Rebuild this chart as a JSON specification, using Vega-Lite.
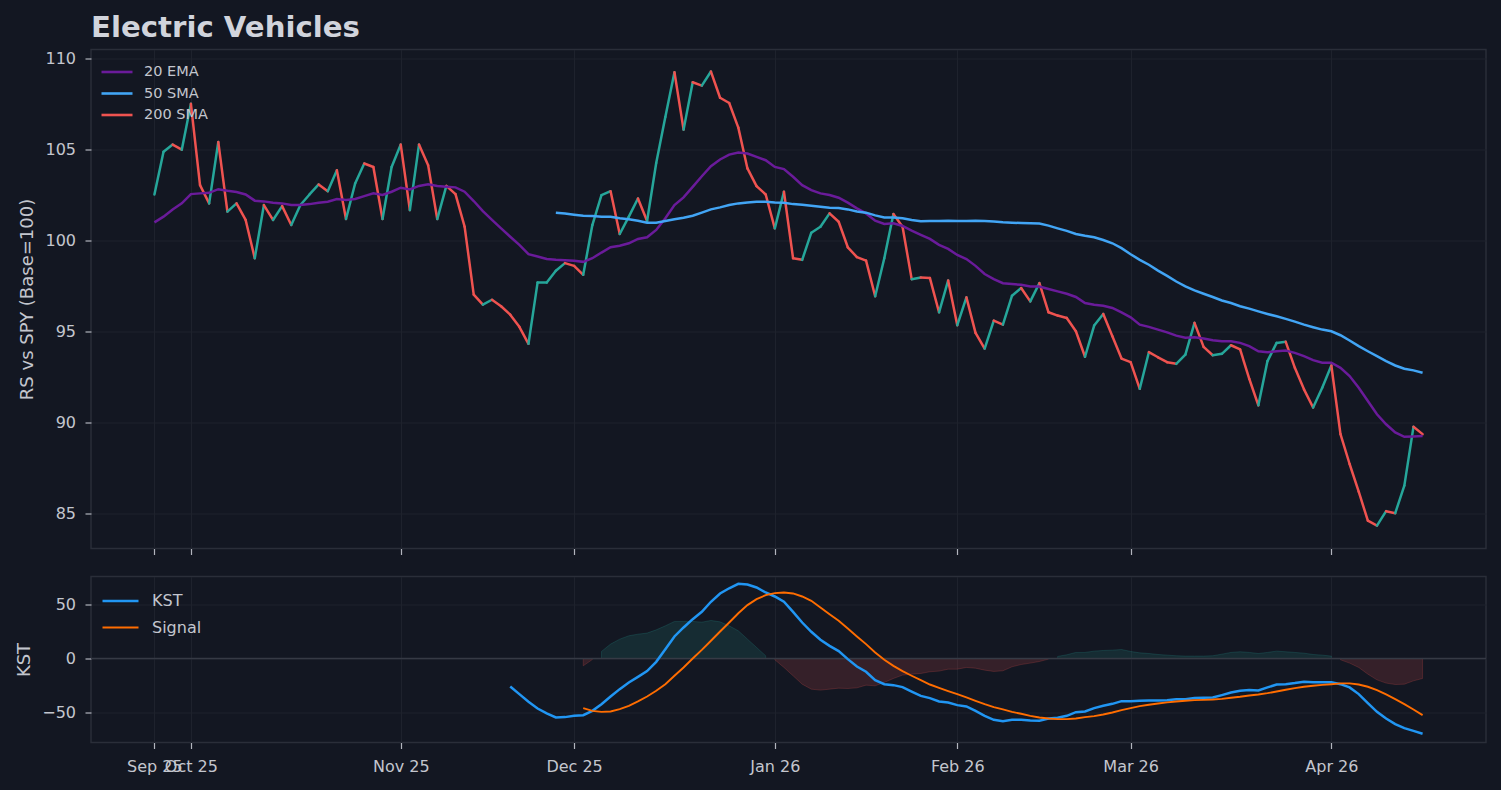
{
  "$schema": "https://vega.github.io/schema/vega-lite/v6.json",
  "autosize": {"type": "pad"},
  "padding": {"left": 14, "top": 13.5, "right": 14, "bottom": 20},
  "background": "#131722",
  "title": {"text": "Electric Vehicles", "anchor": "start", "frame": "group", "fontSize": 29.2, "fontWeight": "bold", "font": "DejaVu Sans", "color": "#d1d4dc", "offset": 5.3},
  "data": {"values": [
    {"i":0,"rs":102.54,"ema":101.01},{"i":1,"rs":104.88,"ema":101.32},{"i":2,"rs":105.28,"ema":101.72},{"i":3,"rs":105.0,"ema":102.05},
    {"i":4,"rs":107.52,"ema":102.56},{"i":5,"rs":103.05,"ema":102.6},{"i":6,"rs":102.05,"ema":102.63},{"i":7,"rs":105.42,"ema":102.83},
    {"i":8,"rs":101.6,"ema":102.74},{"i":9,"rs":102.05,"ema":102.67},{"i":10,"rs":101.14,"ema":102.54},{"i":11,"rs":99.04,"ema":102.2},
    {"i":12,"rs":101.96,"ema":102.16},{"i":13,"rs":101.14,"ema":102.09},{"i":14,"rs":101.9,"ema":102.05},{"i":15,"rs":100.86,"ema":101.96},
    {"i":16,"rs":101.96,"ema":101.96},{"i":17,"rs":102.54,"ema":102.01},{"i":18,"rs":103.09,"ema":102.09},{"i":19,"rs":102.72,"ema":102.14},
    {"i":20,"rs":103.87,"ema":102.29},{"i":21,"rs":101.19,"ema":102.23},{"i":22,"rs":103.14,"ema":102.29},{"i":23,"rs":104.24,"ema":102.45},
    {"i":24,"rs":104.05,"ema":102.6},{"i":25,"rs":101.19,"ema":102.51},{"i":26,"rs":104.05,"ema":102.69},{"i":27,"rs":105.28,"ema":102.91},
    {"i":28,"rs":101.68,"ema":102.82},{"i":29,"rs":105.28,"ema":103.01},{"i":30,"rs":104.15,"ema":103.1},{"i":31,"rs":101.19,"ema":103.0},
    {"i":32,"rs":103.01,"ema":102.96},{"i":33,"rs":102.56,"ema":102.93},{"i":34,"rs":100.77,"ema":102.69},{"i":35,"rs":97.04,"ema":102.18},
    {"i":36,"rs":96.49,"ema":101.63},{"i":37,"rs":96.76,"ema":101.14},{"i":38,"rs":96.4,"ema":100.68},
    {"i":39,"rs":95.94,"ema":100.22,"kst":-25.9},{"i":40,"rs":95.27,"ema":99.77,"kst":-33.0},{"i":41,"rs":94.34,"ema":99.26,"kst":-40.1},
    {"i":42,"rs":97.71,"ema":99.13,"kst":-46.3},{"i":43,"rs":97.71,"ema":99.0,"kst":-50.9},
    {"i":44,"rs":98.35,"ema":98.95,"sma":101.54,"kst":-54.6},{"i":45,"rs":98.77,"ema":98.93,"sma":101.5,"kst":-54.3},
    {"i":46,"rs":98.62,"ema":98.9,"sma":101.43,"kst":-53.1},
    {"i":47,"rs":98.13,"ema":98.84,"sma":101.37,"kst":-52.5,"sig":-46.0,"hn":-6.8},
    {"i":48,"rs":100.86,"ema":99.04,"sma":101.36,"kst":-48.5,"sig":-48.5,"hn":-1.0},
    {"i":49,"rs":102.5,"ema":99.35,"sma":101.32,"kst":-42.3,"sig":-49.4,"hp":6.5},
    {"i":50,"rs":102.72,"ema":99.64,"sma":101.32,"kst":-35.2,"sig":-49.1,"hp":13.3},
    {"i":51,"rs":100.37,"ema":99.72,"sma":101.23,"kst":-28.4,"sig":-46.9,"hp":17.9},
    {"i":52,"rs":101.32,"ema":99.86,"sma":101.18,"kst":-22.2,"sig":-43.8,"hp":21.0},
    {"i":53,"rs":102.32,"ema":100.1,"sma":101.1,"kst":-17.0,"sig":-39.8,"hp":22.5},
    {"i":54,"rs":101.08,"ema":100.19,"sma":100.99,"kst":-11.7,"sig":-35.2,"hp":23.5},
    {"i":55,"rs":104.27,"ema":100.59,"sma":100.99,"kst":-3.1,"sig":-29.9,"hp":26.5},
    {"i":56,"rs":106.79,"ema":101.23,"sma":101.08,"kst":8.6,"sig":-23.8,"hp":30.2},
    {"i":57,"rs":109.25,"ema":101.96,"sma":101.18,"kst":20.4,"sig":-16.0,"hp":34.3},
    {"i":58,"rs":106.1,"ema":102.38,"sma":101.26,"kst":28.7,"sig":-8.3,"hp":34.3},
    {"i":59,"rs":108.7,"ema":102.96,"sma":101.37,"kst":36.4,"sig":0.0,"hp":34.3},
    {"i":60,"rs":108.52,"ema":103.54,"sma":101.54,"kst":43.2,"sig":8.0,"hp":33.6},
    {"i":61,"rs":109.29,"ema":104.09,"sma":101.72,"kst":52.5,"sig":16.4,"hp":35.2},
    {"i":62,"rs":107.85,"ema":104.46,"sma":101.83,"kst":60.2,"sig":25.0,"hp":33.9},
    {"i":63,"rs":107.56,"ema":104.73,"sma":101.96,"kst":65.0,"sig":33.3,"hp":30.2},
    {"i":64,"rs":106.21,"ema":104.84,"sma":102.05,"kst":69.1,"sig":41.9,"hp":25.6},
    {"i":65,"rs":103.97,"ema":104.79,"sma":102.1,"kst":68.5,"sig":49.4,"hp":17.9},
    {"i":66,"rs":103.0,"ema":104.6,"sma":102.14,"kst":65.7,"sig":54.9,"hp":10.2},
    {"i":67,"rs":102.54,"ema":104.42,"sma":102.14,"kst":61.1,"sig":58.6,"hp":2.5},
    {"i":68,"rs":100.68,"ema":104.05,"sma":102.1,"kst":57.4,"sig":60.5,"hn":-1.2},
    {"i":69,"rs":102.69,"ema":103.93,"sma":102.09,"kst":52.5,"sig":61.1,"hn":-8.3},
    {"i":70,"rs":99.04,"ema":103.51,"sma":102.01,"kst":43.2,"sig":60.2,"hn":-16.0},
    {"i":71,"rs":98.95,"ema":103.05,"sma":101.97,"kst":33.3,"sig":57.4,"hn":-23.8},
    {"i":72,"rs":100.44,"ema":102.78,"sma":101.92,"kst":24.7,"sig":53.4,"hn":-28.4},
    {"i":73,"rs":100.77,"ema":102.6,"sma":101.87,"kst":17.3,"sig":47.2,"hn":-29.3},
    {"i":74,"rs":101.5,"ema":102.51,"sma":101.81,"kst":11.7,"sig":41.0,"hn":-28.4},
    {"i":75,"rs":101.04,"ema":102.36,"sma":101.8,"kst":6.8,"sig":34.9,"hn":-27.5},
    {"i":76,"rs":99.64,"ema":102.09,"sma":101.72,"kst":-0.6,"sig":27.8,"hn":-27.8},
    {"i":77,"rs":99.1,"ema":101.78,"sma":101.61,"kst":-7.4,"sig":20.4,"hn":-27.2},
    {"i":78,"rs":98.91,"ema":101.5,"sma":101.54,"kst":-12.3,"sig":13.3,"hn":-24.7},
    {"i":79,"rs":96.95,"ema":101.1,"sma":101.39,"kst":-20.1,"sig":5.6,"hn":-25.3},
    {"i":80,"rs":99.04,"ema":100.92,"sma":101.28,"kst":-23.8,"sig":-1.2,"hn":-22.2},
    {"i":81,"rs":101.47,"ema":100.96,"sma":101.28,"kst":-24.7,"sig":-6.8,"hn":-18.5},
    {"i":82,"rs":100.77,"ema":100.81,"sma":101.23,"kst":-26.5,"sig":-11.7,"hn":-15.4},
    {"i":83,"rs":97.89,"ema":100.55,"sma":101.14,"kst":-30.6,"sig":-16.0,"hn":-14.5},
    {"i":84,"rs":97.98,"ema":100.32,"sma":101.07,"kst":-34.6,"sig":-20.1,"hn":-13.9},
    {"i":85,"rs":97.95,"ema":100.1,"sma":101.08,"kst":-36.7,"sig":-24.1,"hn":-12.3},
    {"i":86,"rs":96.07,"ema":99.77,"sma":101.08,"kst":-39.8,"sig":-27.2,"hn":-11.7},
    {"i":87,"rs":97.82,"ema":99.55,"sma":101.1,"kst":-40.7,"sig":-30.2,"hn":-9.9},
    {"i":88,"rs":95.36,"ema":99.22,"sma":101.08,"kst":-43.2,"sig":-33.1,"hn":-9.9},
    {"i":89,"rs":96.89,"ema":98.99,"sma":101.08,"kst":-44.4,"sig":-36.1,"hn":-8.3},
    {"i":90,"rs":94.94,"ema":98.62,"sma":101.1,"kst":-48.5,"sig":-39.2,"hn":-9.0},
    {"i":91,"rs":94.08,"ema":98.17,"sma":101.08,"kst":-53.1,"sig":-42.3,"hn":-10.8},
    {"i":92,"rs":95.61,"ema":97.89,"sma":101.05,"kst":-56.8,"sig":-45.1,"hn":-12.0},
    {"i":93,"rs":95.39,"ema":97.67,"sma":101.01,"kst":-58.0,"sig":-47.2,"hn":-11.4},
    {"i":94,"rs":96.98,"ema":97.62,"sma":100.99,"kst":-56.8,"sig":-49.4,"hn":-7.7},
    {"i":95,"rs":97.4,"ema":97.58,"sma":100.97,"kst":-56.8,"sig":-51.2,"hn":-5.6},
    {"i":96,"rs":96.67,"ema":97.49,"sma":100.96,"kst":-57.4,"sig":-53.1,"hn":-4.3},
    {"i":97,"rs":97.67,"ema":97.49,"sma":100.94,"kst":-57.7,"sig":-54.6,"hn":-2.8},
    {"i":98,"rs":96.07,"ema":97.35,"sma":100.83,"kst":-55.6,"sig":-55.6,"hn":-0.6},
    {"i":99,"rs":95.89,"ema":97.22,"sma":100.68,"kst":-54.9,"sig":-56.2,"hp":1.9},
    {"i":100,"rs":95.76,"ema":97.09,"sma":100.54,"kst":-53.1,"sig":-56.2,"hp":3.4},
    {"i":101,"rs":95.03,"ema":96.91,"sma":100.37,"kst":-49.7,"sig":-55.6,"hp":5.6},
    {"i":102,"rs":93.63,"ema":96.58,"sma":100.27,"kst":-49.1,"sig":-54.3,"hp":5.6},
    {"i":103,"rs":95.34,"ema":96.49,"sma":100.19,"kst":-46.0,"sig":-53.4,"hp":6.8},
    {"i":104,"rs":95.98,"ema":96.43,"sma":100.04,"kst":-43.8,"sig":-51.9,"hp":7.4},
    {"i":105,"rs":94.75,"ema":96.31,"sma":99.86,"kst":-42.0,"sig":-50.0,"hp":7.7},
    {"i":106,"rs":93.53,"ema":96.07,"sma":99.59,"kst":-39.5,"sig":-47.8,"hp":8.3},
    {"i":107,"rs":93.33,"ema":95.79,"sma":99.26,"kst":-39.5,"sig":-46.0,"hp":6.5},
    {"i":108,"rs":91.87,"ema":95.39,"sma":98.95,"kst":-39.2,"sig":-44.1,"hp":5.2},
    {"i":109,"rs":93.88,"ema":95.27,"sma":98.68,"kst":-38.9,"sig":-42.9,"hp":4.6},
    {"i":110,"rs":93.6,"ema":95.12,"sma":98.36,"kst":-38.9,"sig":-41.7,"hp":3.7},
    {"i":111,"rs":93.33,"ema":94.97,"sma":98.07,"kst":-38.6,"sig":-40.7,"hp":3.1},
    {"i":112,"rs":93.24,"ema":94.79,"sma":97.76,"kst":-37.7,"sig":-39.8,"hp":2.5},
    {"i":113,"rs":93.75,"ema":94.67,"sma":97.49,"kst":-37.7,"sig":-39.2,"hp":2.2},
    {"i":114,"rs":95.49,"ema":94.7,"sma":97.27,"kst":-36.6,"sig":-38.6,"hp":2.2},
    {"i":115,"rs":94.17,"ema":94.63,"sma":97.09,"kst":-36.4,"sig":-38.3,"hp":2.2},
    {"i":116,"rs":93.71,"ema":94.54,"sma":96.91,"kst":-36.1,"sig":-38.0,"hp":2.5},
    {"i":117,"rs":93.79,"ema":94.48,"sma":96.72,"kst":-33.9,"sig":-37.4,"hp":4.0},
    {"i":118,"rs":94.26,"ema":94.48,"sma":96.58,"kst":-31.5,"sig":-36.4,"hp":5.6},
    {"i":119,"rs":94.03,"ema":94.39,"sma":96.4,"kst":-29.9,"sig":-35.5,"hp":6.2},
    {"i":120,"rs":92.42,"ema":94.21,"sma":96.27,"kst":-29.3,"sig":-34.3,"hp":5.6},
    {"i":121,"rs":90.96,"ema":93.93,"sma":96.12,"kst":-29.6,"sig":-33.3,"hp":4.6},
    {"i":122,"rs":93.39,"ema":93.88,"sma":95.98,"kst":-26.8,"sig":-32.1,"hp":5.6},
    {"i":123,"rs":94.39,"ema":93.93,"sma":95.85,"kst":-24.1,"sig":-30.6,"hp":6.8},
    {"i":124,"rs":94.45,"ema":93.97,"sma":95.71,"kst":-23.8,"sig":-29.0,"hp":6.2},
    {"i":125,"rs":93.02,"ema":93.84,"sma":95.56,"kst":-22.8,"sig":-27.5,"hp":5.6},
    {"i":126,"rs":91.84,"ema":93.66,"sma":95.39,"kst":-21.6,"sig":-26.2,"hp":4.9},
    {"i":127,"rs":90.84,"ema":93.44,"sma":95.25,"kst":-21.9,"sig":-25.3,"hp":3.7},
    {"i":128,"rs":91.93,"ema":93.3,"sma":95.12,"kst":-21.9,"sig":-24.4,"hp":3.1},
    {"i":129,"rs":93.15,"ema":93.3,"sma":95.03,"kst":-21.9,"sig":-23.8,"hp":2.2},
    {"i":130,"rs":89.38,"ema":93.02,"sma":94.81,"kst":-23.8,"sig":-23.1,"hn":-1.2},
    {"i":131,"rs":87.74,"ema":92.57,"sma":94.52,"kst":-26.8,"sig":-23.1,"hn":-4.3},
    {"i":132,"rs":86.22,"ema":91.93,"sma":94.21,"kst":-33.0,"sig":-24.1,"hn":-8.3},
    {"i":133,"rs":84.63,"ema":91.2,"sma":93.93,"kst":-41.3,"sig":-26.2,"hn":-14.5},
    {"i":134,"rs":84.36,"ema":90.47,"sma":93.66,"kst":-49.4,"sig":-29.3,"hn":-19.8},
    {"i":135,"rs":85.15,"ema":89.92,"sma":93.39,"kst":-55.6,"sig":-33.3,"hn":-22.8},
    {"i":136,"rs":85.04,"ema":89.47,"sma":93.15,"kst":-60.8,"sig":-37.7,"hn":-24.1},
    {"i":137,"rs":86.55,"ema":89.23,"sma":92.97,"kst":-64.5,"sig":-42.3,"hn":-23.8},
    {"i":138,"rs":89.78,"ema":89.25,"sma":92.88,"kst":-67.0,"sig":-47.2,"hn":-20.7},
    {"i":139,"rs":89.38,"ema":89.28,"sma":92.75,"kst":-69.7,"sig":-52.5,"hn":-18.5}
  ]},
  "spacing": 28,
  "bounds": "flush",
  "resolve": {"scale": {"color": "independent", "strokeWidth": "independent"}, "legend": {"color": "independent"}},
  "vconcat": [
    {
      "width": 1395,
      "height": 499,
      "encoding": {
        "x": {"field": "i", "type": "quantitative",
          "scale": {"domain": [-6.95, 145.95], "nice": false, "zero": false},
          "axis": {"values": [0, 4, 27, 46, 68, 88, 107, 129], "labels": false, "title": null}}
      },
      "layer": [
        {
          "transform": [
            {"window": [{"op": "lead", "field": "rs", "as": "rs2"}, {"op": "lead", "field": "i", "as": "i2"}], "sort": [{"field": "i", "order": "ascending"}]},
            {"filter": "datum.rs2 != null"}
          ],
          "mark": {"type": "rule", "strokeWidth": 2.5, "strokeCap": "round"},
          "encoding": {
            "x2": {"field": "i2"},
            "y": {"field": "rs", "type": "quantitative", "title": "RS vs SPY (Base=100)",
              "scale": {"domain": [83.1, 110.5], "nice": false, "zero": false},
              "axis": {"values": [85, 90, 95, 100, 105, 110]}},
            "y2": {"field": "rs2"},
            "color": {"condition": {"test": "datum.rs2 >= datum.rs", "value": "#26a69a"}, "value": "#ef5350"}
          }
        },
        {
          "transform": [{"fold": ["ema", "sma"], "as": ["key", "val"]}],
          "mark": {"type": "line", "strokeWidth": 2.5, "invalid": "break-paths-filter-domains"},
          "encoding": {
            "y": {"field": "val", "type": "quantitative", "title": "RS vs SPY (Base=100)"},
            "color": {"field": "key", "type": "nominal",
              "scale": {"domain": ["ema", "sma", "sma200"], "range": ["#6a1b9a", "#42a5f5", "#ef5350"]},
              "legend": {"orient": "none", "legendX": 14.5, "legendY": 11, "title": null,
                "symbolType": "M-1.55,0H1.55", "symbolSize": 400, "symbolStrokeWidth": 2.6,
                "labelFontSize": 14.5, "labelOffset": 15.5, "rowPadding": 3.5, "padding": 0,
                "labelExpr": "datum.label == 'ema' ? '20 EMA' : datum.label == 'sma' ? '50 SMA' : '200 SMA'"}}
          }
        }
      ]
    },
    {
      "width": 1395,
      "height": 166,
      "encoding": {
        "x": {"field": "i", "type": "quantitative",
          "scale": {"domain": [-6.95, 145.95], "nice": false, "zero": false},
          "axis": {"values": [0, 4, 27, 46, 68, 88, 107, 129], "title": null, "labelOverlap": false, "labelPadding": 10,
            "labelExpr": "['Sep 25','Oct 25','Nov 25','Dec 25','Jan 26','Feb 26','Mar 26','Apr 26'][indexof([0,4,27,46,68,88,107,129], datum.value)]"}}
      },
      "layer": [
        {
          "mark": {"type": "area", "color": "#26a69a", "fillOpacity": 0.15, "stroke": "#26a69a", "strokeOpacity": 0.2, "strokeWidth": 1, "invalid": "break-paths-filter-domains"},
          "encoding": {
            "y": {"field": "hp", "type": "quantitative", "title": "KST",
              "scale": {"domain": [-77.8, 75.9], "nice": false, "zero": false},
              "axis": {"values": [-50, 0, 50]}},
            "y2": {"datum": 0}
          }
        },
        {
          "mark": {"type": "area", "color": "#ef5350", "fillOpacity": 0.16, "stroke": "#ef5350", "strokeOpacity": 0.2, "strokeWidth": 1, "invalid": "break-paths-filter-domains"},
          "encoding": {
            "y": {"field": "hn", "type": "quantitative", "title": "KST"},
            "y2": {"datum": 0}
          }
        },
        {
          "data": {"values": [{"z": 0}]},
          "mark": {"type": "rule", "color": "#363a45", "strokeWidth": 1.6},
          "encoding": {"y": {"field": "z", "type": "quantitative", "title": "KST"}, "x": null}
        },
        {
          "transform": [{"fold": ["kst", "sig"], "as": ["key", "val"]}],
          "mark": {"type": "line", "invalid": "break-paths-filter-domains"},
          "encoding": {
            "y": {"field": "val", "type": "quantitative", "title": "KST"},
            "color": {"field": "key", "type": "nominal",
              "scale": {"domain": ["kst", "sig"], "range": ["#2196f3", "#ff6d00"]},
              "legend": {"orient": "none", "legendX": 16, "legendY": 11, "title": null,
                "symbolType": "M-1.5,0H1.5", "symbolSize": 576, "symbolStrokeWidth": 2.3,
                "labelFontSize": 16, "labelOffset": 18, "rowPadding": 5, "padding": 0,
                "labelExpr": "datum.label == 'kst' ? 'KST' : 'Signal'"}},
            "strokeWidth": {"field": "key", "type": "nominal", "scale": {"domain": ["kst", "sig"], "range": [2.5, 1.9]}, "legend": null}
          }
        }
      ]
    }
  ],
  "config": {
    "background": "#131722",
    "font": "DejaVu Sans",
    "view": {"fill": "#131722", "stroke": "#2a2e39", "strokeWidth": 1.5},
    "axis": {
      "domain": false, "grid": true, "gridColor": "#1e222d", "gridWidth": 1,
      "tickColor": "#b2b5be", "tickSize": 6, "tickWidth": 1.2,
      "labelColor": "#c3c6ce", "labelFont": "DejaVu Sans", "labelFontSize": 16, "labelPadding": 9.5,
      "titleColor": "#c3c6ce", "titleFont": "DejaVu Sans", "titleFontSize": 18, "titleFontWeight": "normal", "titlePadding": 8.5
    },
    "legend": {"labelColor": "#c3c6ce", "labelFont": "DejaVu Sans"}
  }
}
